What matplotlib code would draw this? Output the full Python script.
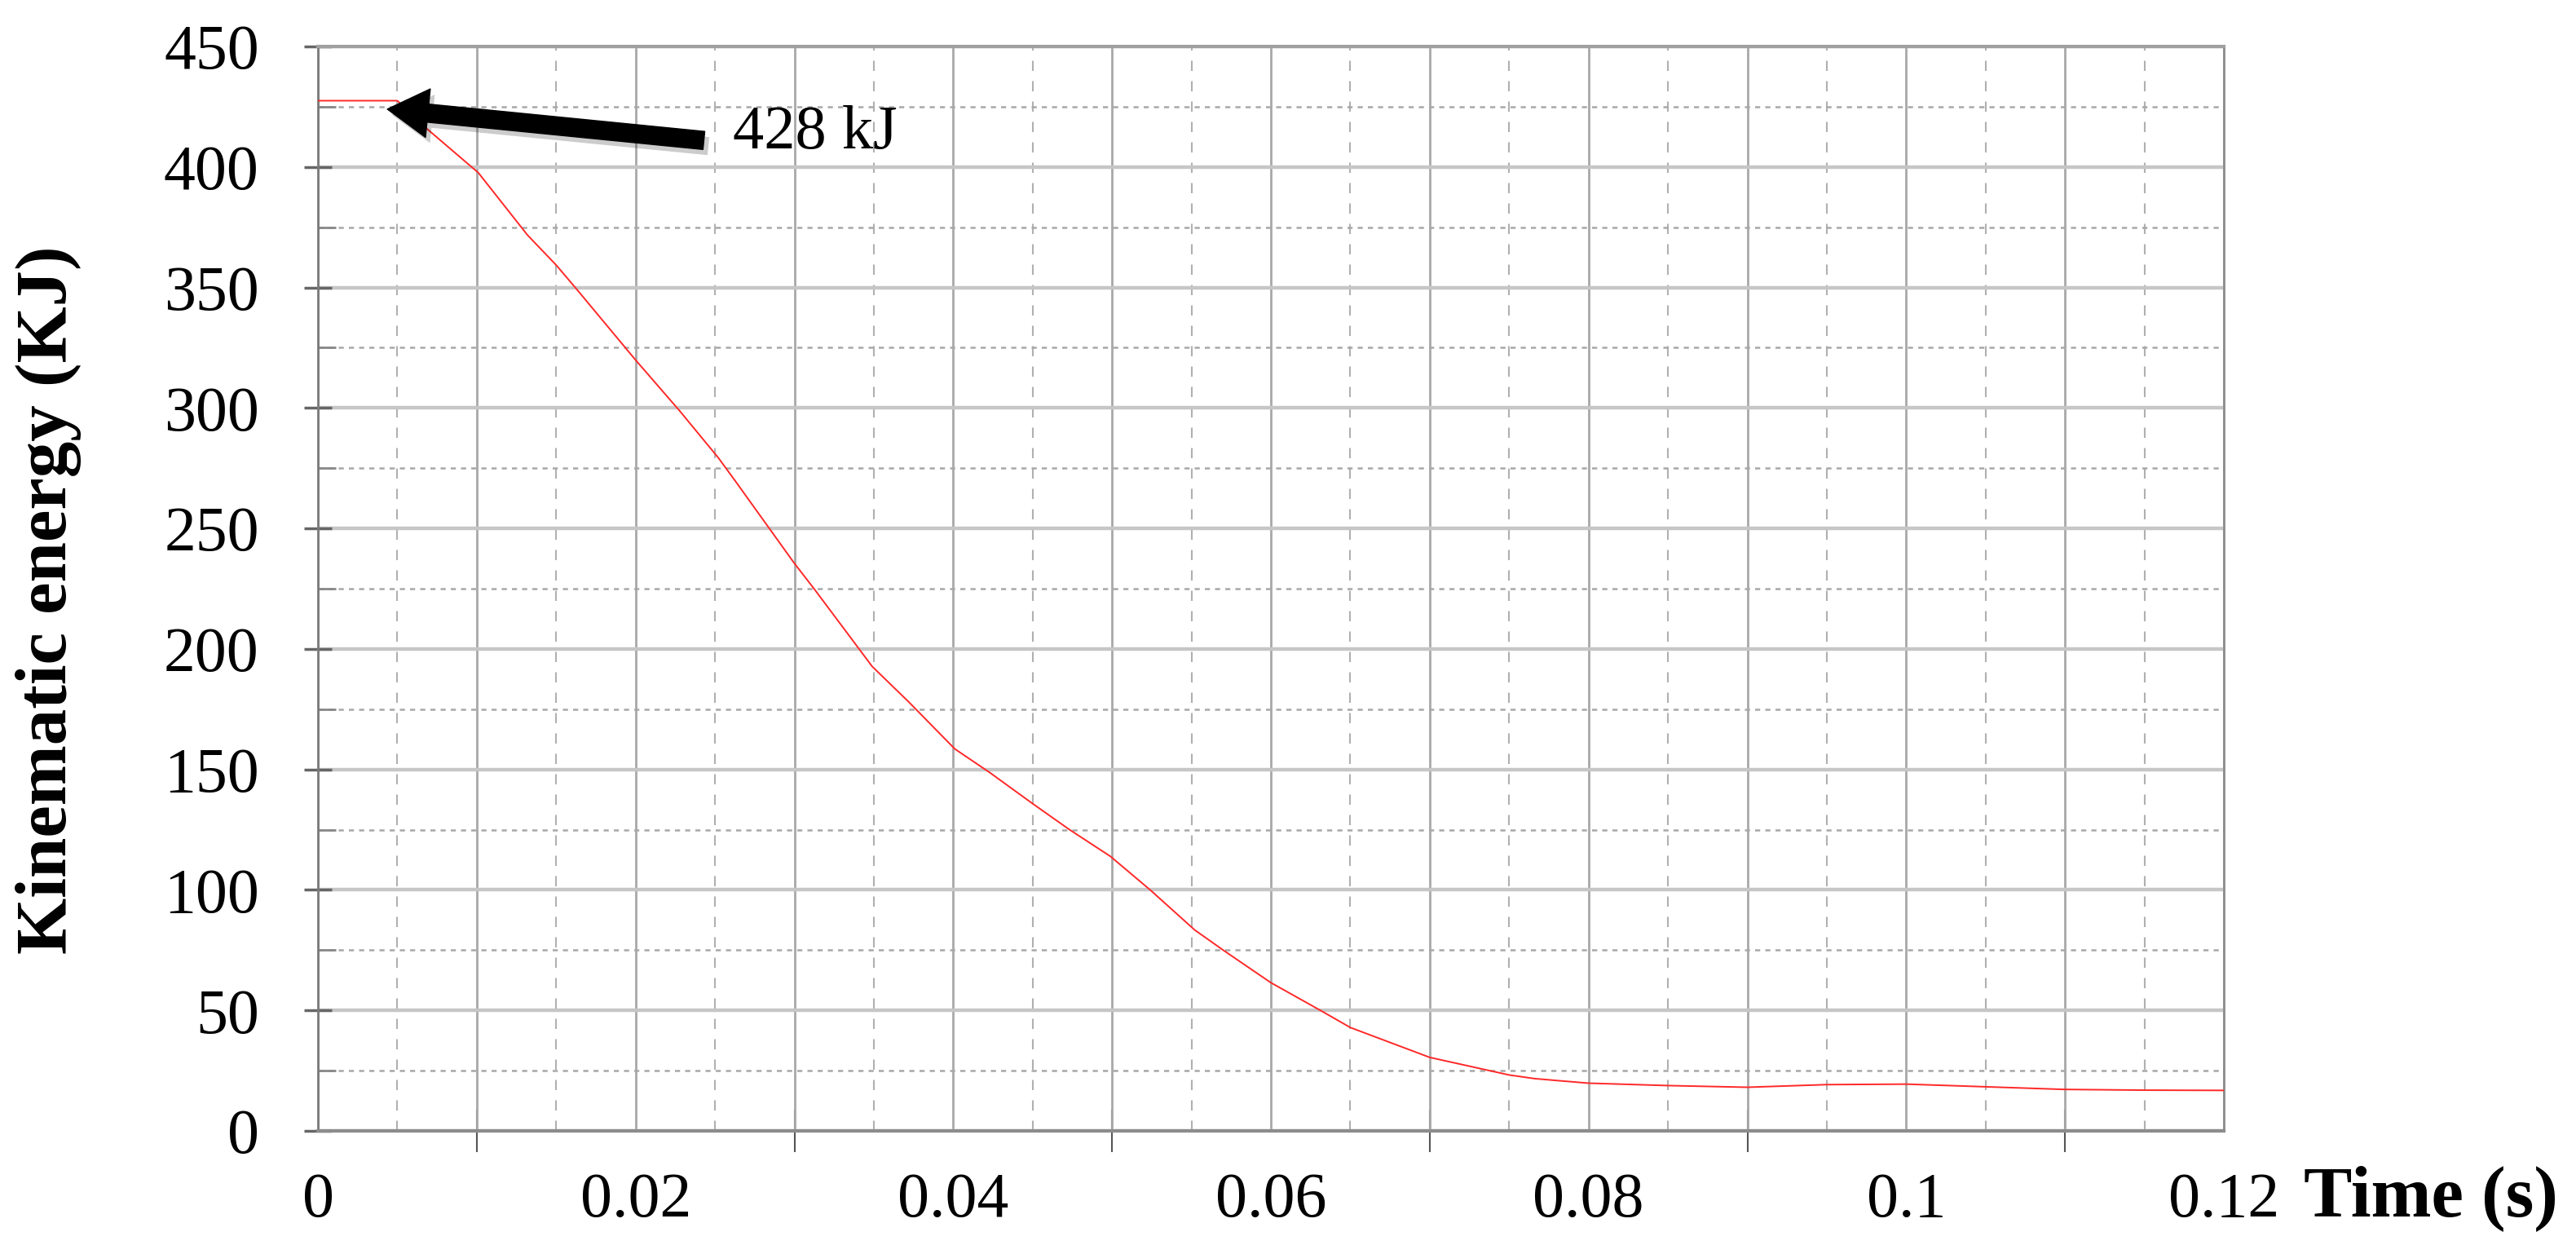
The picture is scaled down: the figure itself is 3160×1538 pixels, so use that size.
import numpy as np
import matplotlib
matplotlib.use("Agg")
import matplotlib.pyplot as plt
import matplotlib.patheffects as pe
from matplotlib.ticker import MultipleLocator

# ---------------- data ----------------
time_s = [0.0, 0.0050, 0.0068, 0.0101, 0.0132, 0.0150, 0.0163, 0.0200, 0.0228,
          0.0252, 0.0262, 0.0300, 0.0312, 0.0349, 0.0372, 0.0401, 0.0423, 0.0450,
          0.0473, 0.0499, 0.0524, 0.0552, 0.0570, 0.0600, 0.0632, 0.0650, 0.0700,
          0.0750, 0.0766, 0.0780, 0.0800, 0.0850, 0.0900, 0.0950, 0.1000, 0.1050,
          0.1100, 0.1150, 0.1200]
kinetic_kj = [427.5, 427.5, 416.2, 397.6, 371.7, 359.3, 349.2, 319.9, 298.6,
              279.4, 270.4, 235.5, 225.3, 192.7, 178.0, 158.5, 148.7, 135.8,
              125.1, 113.9, 100.0, 83.4, 75.0, 61.5, 49.7, 42.9, 30.5,
              23.2, 21.7, 20.9, 19.8, 18.8, 18.1, 19.2, 19.4, 18.3,
              17.2, 16.9, 16.8]

x_ticks = [0.00, 0.01, 0.02, 0.03, 0.04, 0.05, 0.06, 0.07, 0.08, 0.09, 0.10, 0.11, 0.12]
x_tick_labels = ["0", "", "0.02", "", "0.04", "", "0.06", "", "0.08", "", "0.1", "", "0.12"]
x_odd_ticks = [0.01, 0.03, 0.05, 0.07, 0.09, 0.11]
y_ticks = [0, 50, 100, 150, 200, 250, 300, 350, 400, 450]
y_tick_labels = ["0", "50", "100", "150", "200", "250", "300", "350", "400", "450"]

x_label = "Time (s)"
y_label = "Kinematic energy (KJ)"
annot_text = "428 kJ"
annot_tip = (0.00437, 424.0)
annot_tail = (0.0243, 411.0)
annot_text_pos = (0.0313, 414.0)

# ---------------- figure ----------------
SERIF = ["Liberation Serif", "DejaVu Serif"]
fig = plt.figure(figsize=(31.6, 15.38), dpi=100)
ax = fig.add_axes([390 / 3160, 151 / 1538, 2338 / 3160, 1330 / 1538])

ax.plot(time_s, kinetic_kj, color="#ff2828", lw=1.4, zorder=3)

ax.set_xlim(0, 0.12)
ax.set_ylim(0, 450)

# grid
ax.set_xticks(x_ticks)
ax.set_xticklabels(x_tick_labels)
ax.xaxis.set_minor_locator(MultipleLocator(0.005))
ax.set_yticks(y_ticks)
ax.set_yticklabels(y_tick_labels)
ax.yaxis.set_minor_locator(MultipleLocator(25))

ax.grid(True, axis="x", which="major", color="#a8a8a8", lw=2.0, ls="-", zorder=0)
ax.grid(True, axis="x", which="minor", color="#b0b0b0", lw=1.5, ls=(0, (6, 6)), zorder=0)
ax.grid(True, axis="y", which="major", color="#c6c6c6", lw=3.2, ls="-", zorder=0)
ax.grid(True, axis="y", which="minor", color="#a8a8a8", lw=1.8, ls=(0, (2.5, 2.5)), zorder=0)
ax.set_axisbelow(True)

for side, col, w in [("left", "#7a7a7a", 2.0), ("bottom", "#8c8c8c", 3.0),
                     ("top", "#a0a0a0", 3.0), ("right", "#8c8c8c", 2.0)]:
    ax.spines[side].set_color(col)
    ax.spines[side].set_linewidth(w)

ax.tick_params(axis="x", which="both", length=0, pad=36)
ax.tick_params(axis="y", which="major", direction="inout", length=24, width=2.5,
               color="#666666", pad=40)
ax.tick_params(axis="y", which="minor", direction="in", length=16, width=2,
               color="#888888")

for lab in ax.get_xticklabels() + ax.get_yticklabels():
    lab.set_fontfamily(SERIF)
    lab.set_fontsize(56)
    lab.set_color("black")

# extra tick marks at odd hundredths crossing the bottom axis
sec = ax.secondary_xaxis("bottom")
sec.set_xticks(x_odd_ticks)
sec.tick_params(direction="inout", length=38, width=1.5, color="#555555",
                labelbottom=False)
sec.spines["bottom"].set_visible(False)

# labels
ax.set_ylabel(y_label, fontfamily=SERIF, fontsize=64, fontweight="bold")
ax.yaxis.set_label_coords(-0.124, 0.49)
ax.set_xlabel(x_label, fontfamily=SERIF, fontsize=64, fontweight="bold")
ax.xaxis.label.set_va("center")
ax.xaxis.set_label_coords(1.1087, -0.062)

# annotation arrow and text
ax.annotate("", xy=annot_tip, xytext=annot_tail,
            arrowprops=dict(arrowstyle="simple,head_length=36,head_width=43,tail_width=16",
                            mutation_scale=1, color="black", shrinkA=0, shrinkB=0,
                            path_effects=[pe.SimplePatchShadow(offset=(4, -5),
                                                               shadow_rgbFace="black",
                                                               alpha=0.2),
                                          pe.Normal()]),
            zorder=5)
ax.text(annot_text_pos[0], annot_text_pos[1], annot_text, fontfamily=SERIF,
        fontsize=55, ha="center", va="center", zorder=5)

fig.savefig("out.png", dpi=100, facecolor="white")
